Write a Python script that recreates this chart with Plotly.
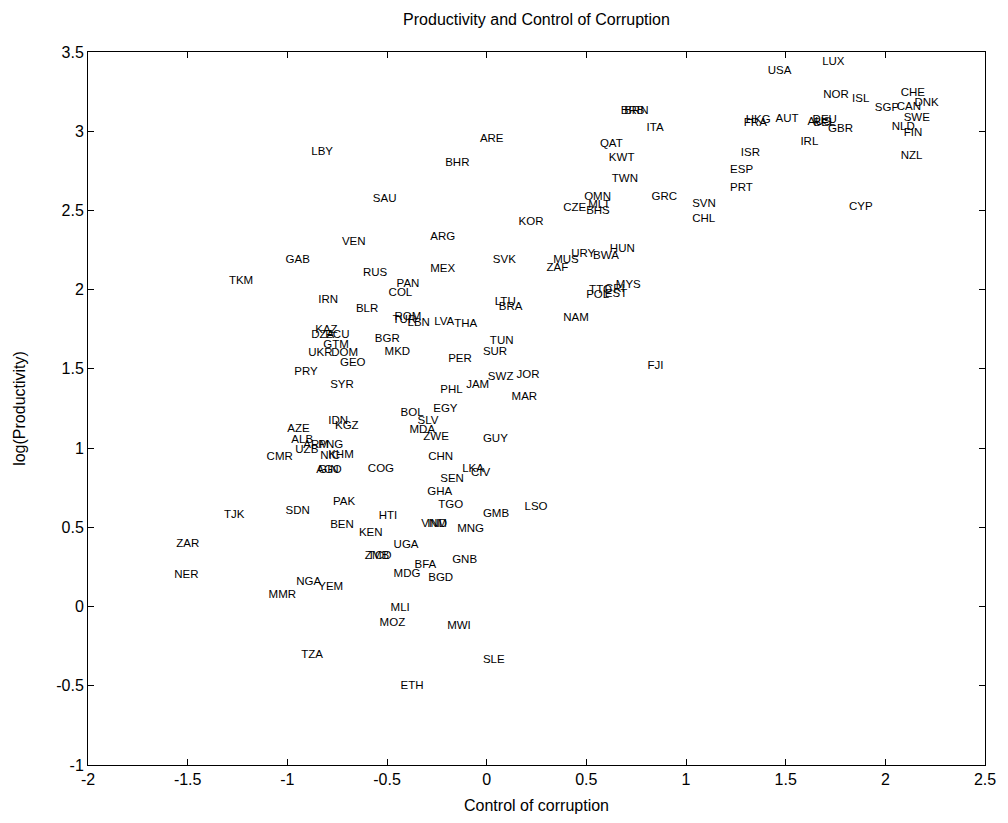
import plotly.graph_objects as go

countries = [
    "LUX", "USA", "CHE", "NOR", "ISL", "DNK", "SGP", "CAN", "SWE", "NLD", "FIN", "NZL",
    "GBR", "AUS", "DEU", "BEL", "AUT", "FRA", "HKG", "IRL", "ISR", "ESP", "PRT", "CYP",
    "SVN", "CHL", "BRB", "BRN", "ITA", "QAT", "KWT", "TWN", "OMN", "GRC", "CZE", "MLT",
    "BHS", "KOR", "ARE", "BHR", "LBY", "SAU", "ARG", "VEN", "GAB", "TKM", "RUS", "MEX",
    "SVK", "PAN", "COL", "IRN", "BLR", "ROM", "TUR", "LBN", "LVA", "THA", "LTU", "BRA",
    "ZAF", "MUS", "URY", "BWA", "HUN", "MYS", "POL", "TTO", "EST", "CRI", "NAM", "FJI",
    "TUN", "SUR", "PER", "SWZ", "JOR", "JAM", "PHL", "MAR", "BGR", "MKD", "KAZ", "DZA",
    "ECU", "GTM", "UKR", "DOM", "GEO", "PRY", "SYR", "IDN", "KGZ", "AZE", "ALB", "UZB",
    "ARM", "PNG", "NIC", "KHM", "AGO", "GIN", "CMR", "COG", "BOL", "EGY", "SLV", "MDA",
    "ZWE", "GUY", "CHN", "LKA", "CIV", "SEN", "GHA", "TGO", "GMB", "LSO", "MNG", "VNM",
    "IND", "HTI", "PAK", "SDN", "TJK", "BEN", "KEN", "UGA", "ZMB", "TCD", "BFA", "GNB",
    "MDG", "BGD", "NGA", "YEM", "MMR", "ZAR", "NER", "MLI", "MOZ", "MWI", "TZA", "SLE",
    "ETH",
]

control_of_corruption = [
    1.683, 1.410, 2.077, 1.688, 1.833, 2.146, 1.947, 2.057, 2.092, 2.032, 2.092, 2.077,
    1.713, 1.610, 1.635, 1.640, 1.449, 1.290, 1.300, 1.574, 1.275, 1.221, 1.221, 1.818,
    1.031, 1.031, 0.673, 0.690, 0.802, 0.568, 0.613, 0.628, 0.489, 0.827, 0.384, 0.509,
    0.499, 0.160, -0.034, -0.208, -0.880, -0.571, -0.283, -0.726, -1.009, -1.293, -0.621, -0.283,
    0.031, -0.452, -0.492, -0.845, -0.656, -0.462, -0.472, -0.397, -0.263, -0.163, 0.041, 0.061,
    0.300, 0.334, 0.424, 0.534, 0.618, 0.648, 0.499, 0.514, 0.593, 0.593, 0.384, 0.807,
    0.016, -0.019, -0.193, 0.006, 0.150, -0.103, -0.233, 0.125, -0.561, -0.512, -0.860, -0.880,
    -0.810, -0.820, -0.895, -0.780, -0.736, -0.965, -0.785, -0.795, -0.761, -1.000, -0.980, -0.960,
    -0.920, -0.845, -0.835, -0.795, -0.855, -0.845, -1.104, -0.596, -0.432, -0.268, -0.347, -0.387,
    -0.318, -0.019, -0.293, -0.123, -0.079, -0.233, -0.298, -0.243, -0.019, 0.190, -0.148, -0.328,
    -0.298, -0.542, -0.771, -1.009, -1.318, -0.785, -0.641, -0.467, -0.611, -0.596, -0.362, -0.173,
    -0.467, -0.293, -0.955, -0.845, -1.094, -1.557, -1.567, -0.482, -0.537, -0.198, -0.930, -0.019,
    -0.432,
]

log_productivity = [
    3.438, 3.381, 3.242, 3.230, 3.205, 3.179, 3.148, 3.154, 3.085, 3.028, 2.990, 2.845,
    3.015, 3.060, 3.070, 3.050, 3.078, 3.050, 3.070, 2.933, 2.864, 2.756, 2.643, 2.523,
    2.542, 2.447, 3.129, 3.129, 3.021, 2.920, 2.832, 2.699, 2.586, 2.586, 2.516, 2.535,
    2.497, 2.428, 2.952, 2.801, 2.870, 2.573, 2.333, 2.302, 2.188, 2.056, 2.106, 2.131,
    2.188, 2.037, 1.980, 1.936, 1.879, 1.828, 1.810, 1.790, 1.797, 1.784, 1.923, 1.891,
    2.138, 2.188, 2.226, 2.214, 2.258, 2.030, 1.967, 1.998, 1.973, 2.005, 1.822, 1.519,
    1.677, 1.607, 1.563, 1.449, 1.462, 1.399, 1.367, 1.323, 1.689, 1.607, 1.746, 1.715,
    1.715, 1.652, 1.601, 1.601, 1.538, 1.481, 1.399, 1.172, 1.140, 1.121, 1.052, 0.989,
    1.020, 1.020, 0.951, 0.957, 0.862, 0.862, 0.944, 0.869, 1.222, 1.247, 1.172, 1.115,
    1.071, 1.058, 0.944, 0.869, 0.843, 0.806, 0.724, 0.641, 0.585, 0.629, 0.490, 0.521,
    0.521, 0.572, 0.660, 0.604, 0.578, 0.515, 0.465, 0.389, 0.319, 0.319, 0.263, 0.294,
    0.206, 0.181, 0.155, 0.124, 0.073, 0.395, 0.199, -0.009, -0.104, -0.122, -0.306, -0.337,
    -0.501,
]

x_ticks = [-2, -1.5, -1, -0.5, 0, 0.5, 1, 1.5, 2, 2.5]
x_tick_labels = ["-2", "-1.5", "-1", "-0.5", "0", "0.5", "1", "1.5", "2", "2.5"]
y_ticks = [-1, -0.5, 0, 0.5, 1, 1.5, 2, 2.5, 3, 3.5]
y_tick_labels = ["-1", "-0.5", "0", "0.5", "1", "1.5", "2", "2.5", "3", "3.5"]

FONT = "Liberation Sans, Arial, sans-serif"

fig = go.Figure()
fig.add_trace(go.Scatter(
    x=control_of_corruption,
    y=log_productivity,
    text=countries,
    mode="text",
    textposition="middle right",
    textfont=dict(family=FONT, size=11.5, color="black"),
    marker=dict(size=0),
    showlegend=False,
    hoverinfo="text",
))

axis_common = dict(
    showgrid=False,
    zeroline=False,
    showline=True,
    linecolor="black",
    linewidth=1,
    mirror="allticks",
    ticks="inside",
    ticklen=6,
    tickcolor="black",
    tickfont=dict(family=FONT, size=16, color="black"),
)

fig.update_layout(
    width=1008,
    height=823,
    paper_bgcolor="white",
    plot_bgcolor="white",
    margin=dict(l=88, r=18, t=52, b=58),
    title=dict(
        text="Productivity and Control of Corruption",
        x=0.5,
        xref="paper",
        xanchor="center",
        y=1 - 19 / 823,
        yanchor="middle",
        yref="container",
        font=dict(family=FONT, size=16, color="black"),
    ),
    xaxis=dict(
        range=[-2, 2.5],
        tickvals=x_ticks,
        ticktext=x_tick_labels,
        title=dict(text="Control of corruption", font=dict(family=FONT, size=16, color="black"), standoff=12),
        **axis_common,
    ),
    yaxis=dict(
        range=[-1, 3.5],
        tickvals=y_ticks,
        ticktext=y_tick_labels,
        title=dict(text="log(Productivity)", font=dict(family=FONT, size=16, color="black"), standoff=26),
        **axis_common,
    ),
)

fig.write_html("out.html")
